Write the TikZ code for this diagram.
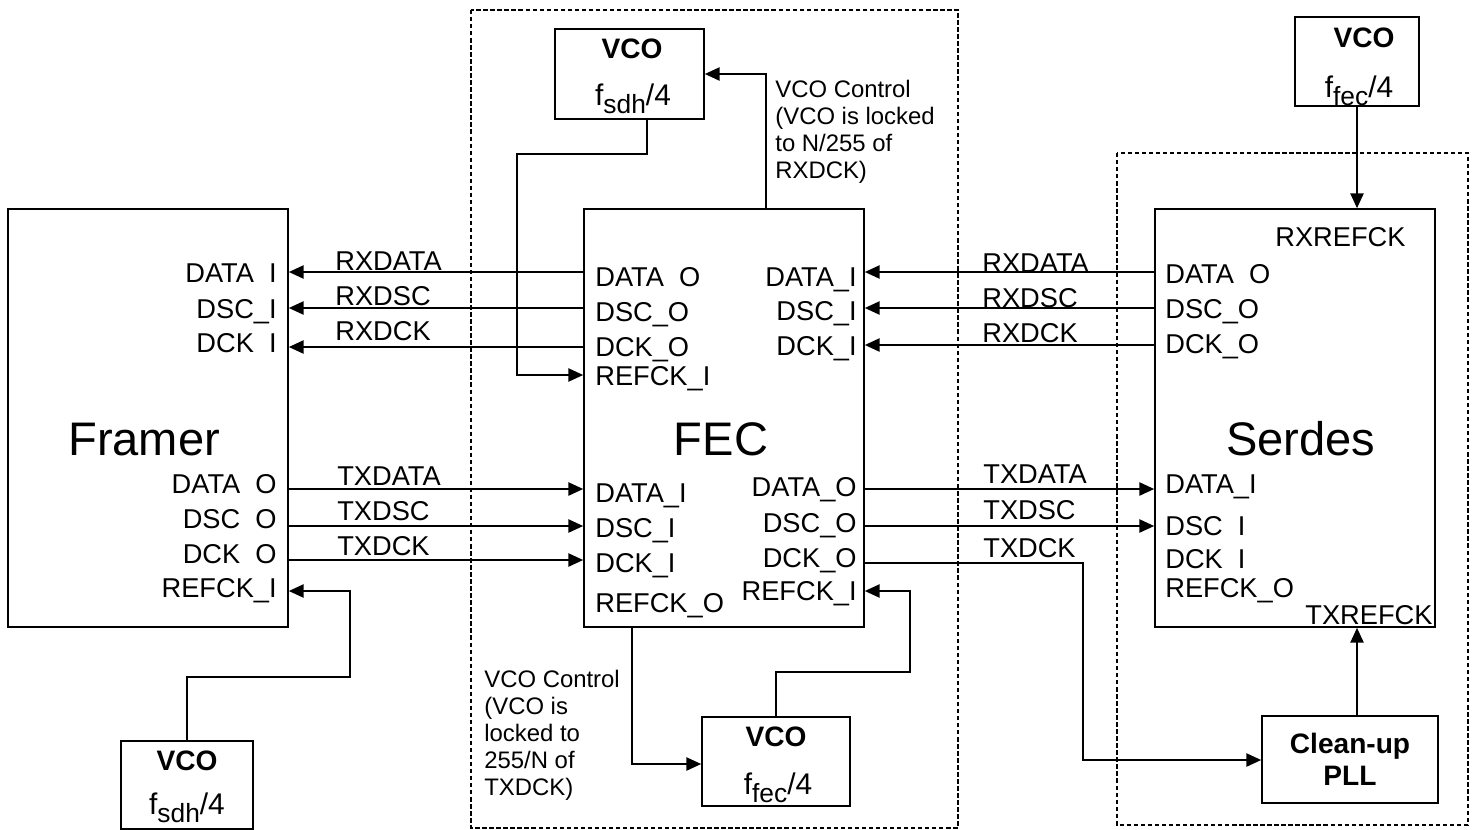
\documentclass[tikz,border=0pt]{standalone}
\usepackage{fontspec}
\setmainfont{Liberation Sans}
\usetikzlibrary{arrows.meta,fit,calc}
\newcommand\ul{\char"5F\relax}
\newcommand\us{\hphantom{\char"5F}}
\newcommand\fsub[1]{{\fontsize{17}{17}\selectfont f\raisebox{-5pt}{\fontsize{15}{15}\selectfont #1}/4}}
\begin{document}
\begin{tikzpicture}[x=0.02cm,y=-0.02cm,
  font=\fontsize{15.5}{17}\selectfont,
  box/.style={draw, line width=0.9pt, inner sep=0pt},
  wire/.style={line width=1.2pt},
  arr/.style={wire, -{Triangle[length=8.5pt,width=7.5pt]}},
  dashbox/.style={line width=0.6pt, dash pattern=on 2.5pt off 1.5pt},
  lab/.style={inner sep=0pt},
  big/.style={inner sep=0pt, font=\fontsize{26.8}{30}\selectfont},
  vcot/.style={inner sep=0pt, font=\bfseries\fontsize{16}{18}\selectfont},
  note/.style={inner sep=0pt, align=left, font=\fontsize{13.6}{15.3}\selectfont}]
\useasboundingbox (0,0) rectangle (1473,829);

% dashed groups
\draw[dashbox] (471,10) rectangle (958,828);
\draw[dashbox] (1117,153) rectangle (1468,825);

% main blocks
\node[box, fit={(8,209)(288,627)}] (framer) {};
\node[box, fit={(584,209)(864,627)}] (fec) {};
\node[box, fit={(1155,209)(1435,627)}] (serdes) {};

% VCO / PLL blocks
\node[box, fit={(555,29)(704,119)}] (vcotop) {};
\node[box, fit={(121,741)(253,829)}] (vcobl) {};
\node[box, fit={(702,717)(850,806)}] (vcobot) {};
\node[box, fit={(1295,17)(1419,106)}] (vcotr) {};
\node[box, fit={(1262,716)(1438,803)}] (pll) {};

% block titles
\node[big, anchor=base west] (tframer) at (68,455) {Framer};
\node[big, anchor=base] (tfec) at (721,455) {FEC};
\node[big, anchor=base west] (tserdes) at (1226,455) {Serdes};

% VCO texts
\node[vcot, anchor=base] (v1a) at (632,58) {VCO};
\node[lab, anchor=base] (v1b) at (633,105) {\fsub{sdh}};
\node[vcot, anchor=base] (v2a) at (187,770) {VCO};
\node[lab, anchor=base] (v2b) at (187,814) {\fsub{sdh}};
\node[vcot, anchor=base] (v3a) at (776,746) {VCO};
\node[lab, anchor=base] (v3b) at (778,794) {\fsub{fec}};
\node[vcot, anchor=base] (v4a) at (1364,47) {VCO};
\node[lab, anchor=base] (v4b) at (1359,97) {\fsub{fec}};
\node[vcot, align=center, font=\bfseries\fontsize{16}{18}\selectfont] (tpll) at (pll.center) {Clean-up\\PLL};

% Framer pins
\node[lab, anchor=base east] (fp1) at (277,282) {DATA\us I};
\node[lab, anchor=base east] (fp2) at (277,318) {DSC\ul I};
\node[lab, anchor=base east] (fp3) at (277,352) {DCK\us I};
\node[lab, anchor=base east] (fp4) at (277,493) {DATA\us O};
\node[lab, anchor=base east] (fp5) at (277,528) {DSC\us O};
\node[lab, anchor=base east] (fp6) at (277,563) {DCK\us O};
\node[lab, anchor=base east] (fp7) at (277,597) {REFCK\ul I};

% FEC left pins
\node[lab, anchor=base west] (el1) at (595,286) {DATA\us O};
\node[lab, anchor=base west] (el2) at (595,321) {DSC\ul O};
\node[lab, anchor=base west] (el3) at (595,356) {DCK\ul O};
\node[lab, anchor=base west] (el4) at (595,385) {REFCK\ul I};
\node[lab, anchor=base west] (el5) at (595,502) {DATA\ul I};
\node[lab, anchor=base west] (el6) at (595,537) {DSC\ul I};
\node[lab, anchor=base west] (el7) at (595,572) {DCK\ul I};
\node[lab, anchor=base west] (el8) at (595,612) {REFCK\ul O};

% FEC right pins
\node[lab, anchor=base east] (er1) at (857,286) {DATA\ul I};
\node[lab, anchor=base east] (er2) at (857,320) {DSC\ul I};
\node[lab, anchor=base east] (er3) at (857,355) {DCK\ul I};
\node[lab, anchor=base east] (er4) at (857,496) {DATA\ul O};
\node[lab, anchor=base east] (er5) at (857,532) {DSC\ul O};
\node[lab, anchor=base east] (er6) at (857,567) {DCK\ul O};
\node[lab, anchor=base east] (er7) at (857,600) {REFCK\ul I};

% Serdes pins
\node[lab, anchor=base west] (sr0) at (1275,246) {RXREFCK};
\node[lab, anchor=base west] (sp1) at (1165,283) {DATA\us O};
\node[lab, anchor=base west] (sp2) at (1165,318) {DSC\ul O};
\node[lab, anchor=base west] (sp3) at (1165,353) {DCK\ul O};
\node[lab, anchor=base west] (sp4) at (1165,493) {DATA\ul I};
\node[lab, anchor=base west] (sp5) at (1165,535) {DSC\us I};
\node[lab, anchor=base west] (sp6) at (1165,568) {DCK\us I};
\node[lab, anchor=base west] (sp7) at (1165,597) {REFCK\ul O};
\node[lab, anchor=base west] (st0) at (1305,624) {TXREFCK};

% wire labels
\node[lab, anchor=base west] (w1) at (335,270) {RXDATA};
\node[lab, anchor=base west] (w2) at (335,305) {RXDSC};
\node[lab, anchor=base west] (w3) at (335,340) {RXDCK};
\node[lab, anchor=base west] (w4) at (337,485) {TXDATA};
\node[lab, anchor=base west] (w5) at (337,520) {TXDSC};
\node[lab, anchor=base west] (w6) at (337,555) {TXDCK};
\node[lab, anchor=base west] (w7) at (982,272) {RXDATA};
\node[lab, anchor=base west] (w8) at (982,307) {RXDSC};
\node[lab, anchor=base west] (w9) at (982,342) {RXDCK};
\node[lab, anchor=base west] (w10) at (983,483) {TXDATA};
\node[lab, anchor=base west] (w11) at (983,519) {TXDSC};
\node[lab, anchor=base west] (w12) at (983,557) {TXDCK};

% notes
\node[note, anchor=north west] (n1) at (775,80) {VCO Control\\(VCO is locked\\to N/255 of\\RXDCK)};
\node[note, anchor=north west] (n2) at (484,670) {VCO Control\\(VCO is\\locked to\\255/N of\\TXDCK)};

% RX wires FEC -> Framer
\draw[arr] (fec.west |- 0,272) -- (framer.east |- 0,272);
\draw[arr] (fec.west |- 0,308) -- (framer.east |- 0,308);
\draw[arr] (fec.west |- 0,347) -- (framer.east |- 0,347);
% TX wires Framer -> FEC
\draw[arr] (framer.east |- 0,489) -- (fec.west |- 0,489);
\draw[arr] (framer.east |- 0,526) -- (fec.west |- 0,526);
\draw[arr] (framer.east |- 0,560) -- (fec.west |- 0,560);
% RX wires Serdes -> FEC
\draw[arr] (serdes.west |- 0,272) -- (fec.east |- 0,272);
\draw[arr] (serdes.west |- 0,308) -- (fec.east |- 0,308);
\draw[arr] (serdes.west |- 0,345) -- (fec.east |- 0,345);
% TX wires FEC -> Serdes
\draw[arr] (fec.east |- 0,489) -- (serdes.west |- 0,489);
\draw[arr] (fec.east |- 0,526) -- (serdes.west |- 0,526);
\coordinate (tkbend) at (1083,760);
\draw[arr] (fec.east |- 0,563) -| (tkbend) -- (pll.west |- tkbend);
% clocks
\draw[arr] (vcotop.south -| 647,0) |- (517,154) |- (fec.west |- 0,375);
\draw[arr] (fec.north -| 766,0) |- (vcotop.east |- 0,74);
\draw[arr] (fec.south -| 632,0) |- (vcobot.west |- 0,764);
\draw[arr] (vcobot.north) |- (910,672) |- (fec.east |- 0,591);
\draw[arr] (vcobl.north) |- (350,677) |- (framer.east |- 0,591);
\draw[arr] (vcotr.south -| 1357,0) -- (serdes.north -| 1357,0);
\draw[arr] (pll.north -| 1357,0) -- (serdes.south -| 1357,0);
\end{tikzpicture}
\end{document}
